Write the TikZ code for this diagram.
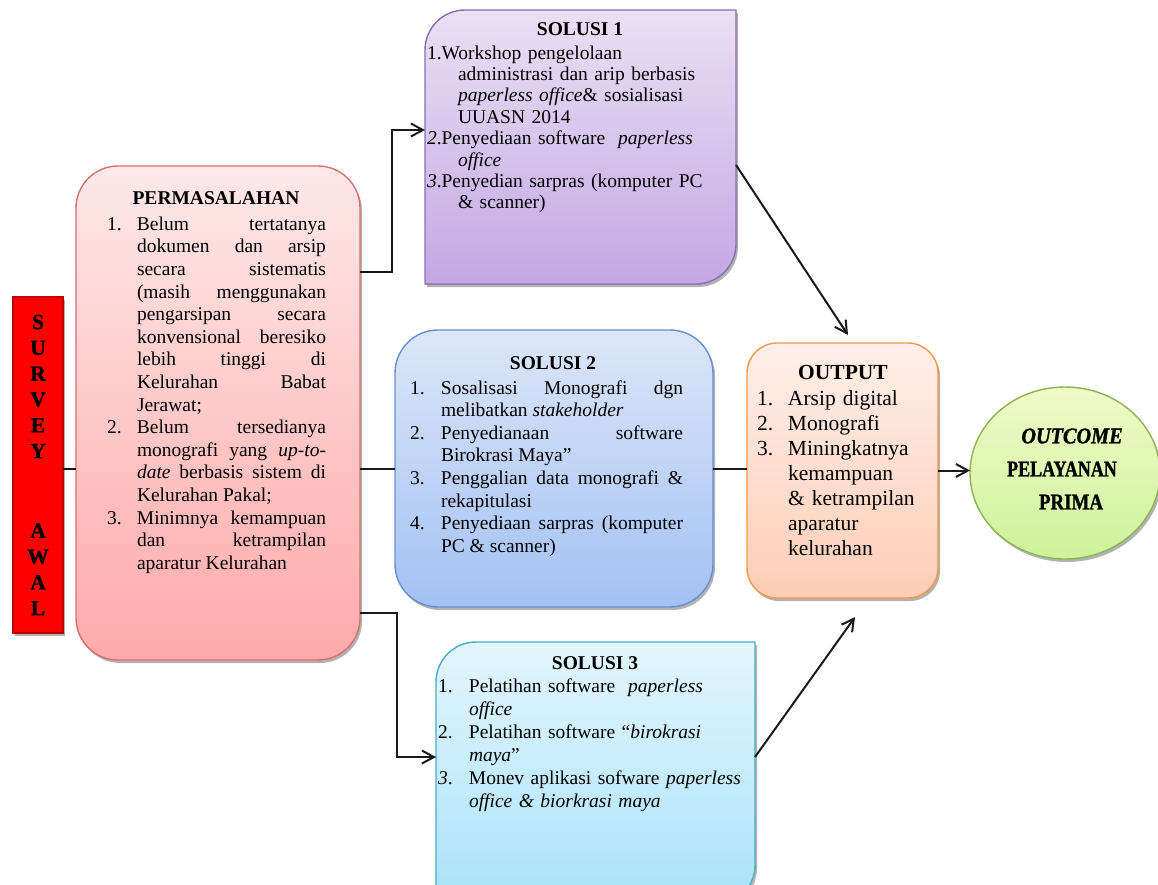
\documentclass[tikz,border=0pt]{standalone}
\usepackage{fontspec}
\setmainfont{Liberation Serif}
\newfontfamily\heavyserif{Liberation Serif}[FakeBold=1.3]
\usepackage{graphicx}
\usetikzlibrary{arrows.meta,shapes.geometric,shadows}

\definecolor{permB}{RGB}{214,112,110}
\definecolor{permT}{RGB}{253,232,232}
\definecolor{permL}{RGB}{255,170,170}
\definecolor{solAB}{RGB}{140,107,179}
\definecolor{solAT}{RGB}{234,224,244}
\definecolor{solAL}{RGB}{195,167,227}
\definecolor{solBB}{RGB}{102,144,204}
\definecolor{solBT}{RGB}{220,230,248}
\definecolor{solBL}{RGB}{163,193,244}
\definecolor{solCB}{RGB}{75,172,198}
\definecolor{solCT}{RGB}{228,246,253}
\definecolor{solCL}{RGB}{168,226,250}
\definecolor{outB}{RGB}{247,150,70}
\definecolor{outT}{RGB}{255,239,234}
\definecolor{outL}{RGB}{253,205,182}
\definecolor{ocB}{RGB}{141,179,86}
\definecolor{ocT}{RGB}{240,250,200}
\definecolor{ocL}{RGB}{205,242,155}
\definecolor{survB}{RGB}{190,0,0}
\definecolor{lineC}{RGB}{25,25,25}

\newcommand{\hitem}[3]{\par\noindent\hangindent=#1\hangafter=1\makebox[#1][l]{#2}#3\par}
\newcommand{\ritem}[3]{\par\noindent\hangindent=#1\hangafter=1 #2#3\par}

\tikzset{
  conn/.style={line width=2pt, draw=lineC},
  arr/.style={conn, -{Straight Barb[length=12pt,width=13pt]}},
  shadowed/.style={drop shadow={shadow xshift=2pt,shadow yshift=-3pt,opacity=0.3,fill=black}},
  box/.style={shape=rectangle, line width=1.4pt, inner sep=0pt, outer sep=0pt, shadowed},
  anchorbox/.style={shape=rectangle, inner sep=0pt, outer sep=0pt},
  body/.style={anchor=north west, inner sep=0pt, outer sep=0pt, font=\fontsize{19.5}{22.6}\selectfont},
  ttl/.style={inner sep=0pt, font=\fontsize{19.5}{22}\selectfont\bfseries},
  otxt/.style={inner sep=0pt, font=\fontsize{22.5}{24}\heavyserif\bfseries},
}

\begin{document}
\begin{tikzpicture}[x=1pt,y=-1pt]
\useasboundingbox (0,0) rectangle (1158,884);
\clip (0,0) rectangle (1158,884);

% SURVEY AWAL
\node[box, draw=survB, line width=2.5pt, fill=red, minimum width=50pt, minimum height=336pt,
      align=center, font=\fontsize{21.5}{25.8}\heavyserif\bfseries] (survey) at (38,465)
      {S\\U\\R\\V\\E\\Y\\[54pt]A\\W\\A\\L};

% PERMASALAHAN
\node[box, rounded corners=42pt, draw=permB, top color=permT, bottom color=permL,
      minimum width=284pt, minimum height=494pt] (perm) at (218,413) {};
\node[ttl] (permttl) at (216,198) {PERMASALAHAN};
\node[body, text width=219pt, align=justify] (permtxt) at (107,207.7) {%
\hitem{30pt}{1.}{Belum tertatanya\linebreak dokumen dan arsip\linebreak secara sistematis\linebreak (masih menggunakan\linebreak pengarsipan secara\linebreak konvensional beresiko\linebreak lebih tinggi di\linebreak Kelurahan Babat\linebreak Jerawat;}
\hitem{30pt}{2.}{Belum tersedianya\linebreak monografi yang \textit{up-to-}\linebreak \textit{date} berbasis sistem di\linebreak Kelurahan Pakal;}
\hitem{30pt}{3.}{Minimnya kemampuan\linebreak dan ketrampilan\linebreak aparatur Kelurahan}};

% SOLUSI 1
\node[anchorbox, minimum width=311pt, minimum height=274pt] (sol1) at (580.5,147) {};
\path[draw=solAB, line width=1.4pt, top color=solAT, bottom color=solAL, shadowed]
  (425,50) .. controls (425,27.9) and (442.9,10) .. (465,10) -- (736,10) -- (736,244)
  .. controls (736,266.1) and (718.1,284) .. (696,284) -- (425,284) -- cycle;
\node[ttl] (sol1ttl) at (580,29) {SOLUSI 1};
\node[body, text width=300pt, align=left, font=\fontsize{19.5}{21.4}\selectfont] (sol1txt) at (427,37.7) {%
\ritem{31pt}{1.}{Workshop pengelolaan\newline administrasi dan arip berbasis\newline \textit{paperless office}\& sosialisasi\newline UUASN 2014}
\ritem{31pt}{\textit{2}.}{Penyediaan software \ \textit{paperless}\newline \textit{office}}
\ritem{31pt}{\textit{3}.}{Penyedian sarpras (komputer PC\newline \& scanner)}};

% SOLUSI 2
\node[box, rounded corners=43pt, draw=solBB, top color=solBT, bottom color=solBL,
      minimum width=318pt, minimum height=277pt] (sol2) at (554,468.5) {};
\node[ttl] (sol2ttl) at (553,363) {SOLUSI 2};
\node[body, text width=273pt, align=justify] (sol2txt) at (410,371.4) {%
\hitem{31pt}{1.}{Sosalisasi Monografi dgn\linebreak melibatkan \textit{stakeholder}}
\hitem{31pt}{2.}{Penyedianaan software\linebreak Birokrasi Maya”}
\hitem{31pt}{3.}{Penggalian data monografi \&\linebreak rekapitulasi}
\hitem{31pt}{4.}{Penyediaan sarpras (komputer\linebreak PC \& scanner)}};

% SOLUSI 3
\node[anchorbox, minimum width=319pt, minimum height=263pt] (sol3) at (595.5,773.5) {};
\path[draw=solCB, line width=1.4pt, top color=solCT, bottom color=solCL, shadowed]
  (436,682) .. controls (436,659.9) and (453.9,642) .. (476,642) -- (755,642) -- (755,865)
  .. controls (755,887.1) and (737.1,905) .. (715,905) -- (436,905) -- cycle;
\node[ttl] (sol3ttl) at (595,663) {SOLUSI 3};
\node[body, text width=312pt, align=left, font=\fontsize{19.5}{23}\selectfont] (sol3txt) at (438,669.7) {%
\hitem{31pt}{1.}{Pelatihan software \ \textit{paperless}\newline \textit{office}}
\hitem{31pt}{2.}{Pelatihan software “\textit{birokrasi}\newline \textit{maya}”}
\hitem{31pt}{\textit{3}.}{Monev aplikasi sofware \textit{paperless}\newline \textit{office \& biorkrasi maya}}};

% OUTPUT
\node[box, rounded corners=30pt, draw=outB, top color=outT, bottom color=outL,
      minimum width=191pt, minimum height=255pt] (output) at (842.5,470.5) {};
\node[ttl, font=\fontsize{21.5}{24}\selectfont\bfseries] (outttl) at (843,372) {OUTPUT};
\node[body, text width=175pt, align=left, font=\fontsize{21.5}{25}\selectfont] (outtxt) at (757,380.8) {%
\hitem{31pt}{1.}{Arsip digital}
\hitem{31pt}{2.}{Monografi}
\hitem{31pt}{3.}{Miningkatnya\newline kemampuan\newline \& ketrampilan\newline aparatur\newline kelurahan}};

% OUTCOME
\node[shape=ellipse, line width=1.4pt, draw=ocB, top color=ocT, bottom color=ocL, shadowed,
      minimum width=190pt, minimum height=172pt, inner sep=0pt, outer sep=0pt] (outcome) at (1065,473) {};
\node[otxt] (oc1) at (1072,436) {\scalebox{0.9}[1]{\itshape OUTCOME}};
\node[otxt] (oc2) at (1062,469) {\scalebox{0.8}[1]{PELAYANAN}};
\node[otxt] (oc3) at (1071,502) {\scalebox{0.84}[1]{PRIMA}};

% connectors
\coordinate (e1) at (392,272);
\coordinate (e2) at (392,130);
\coordinate (e3) at (397,613);
\coordinate (e4) at (397,757);
\coordinate (s1o) at (736,165);
\coordinate (tip1) at (848,335);
\coordinate (tip3) at (855,617);

\draw[conn] (survey.east |- sol2.west) -- (perm.west |- sol2.west);
\draw[conn] (perm.east |- sol2.west) -- (sol2.west);
\draw[conn] (sol2.east) -- (output.west |- sol2.east);
\draw[arr] (output.east) -- (output.east -| outcome.west);
\draw[arr] (perm.east |- e1) -- (e1) -- (e2) -- (sol1.west |- e2);
\draw[arr] (perm.east |- e3) -- (e3) -- (e4) -- (sol3.west |- e4);
\draw[arr] (sol1.east |- s1o) -- (tip1);
\draw[arr] (sol3.east |- e4) -- (tip3);
\end{tikzpicture}
\end{document}
